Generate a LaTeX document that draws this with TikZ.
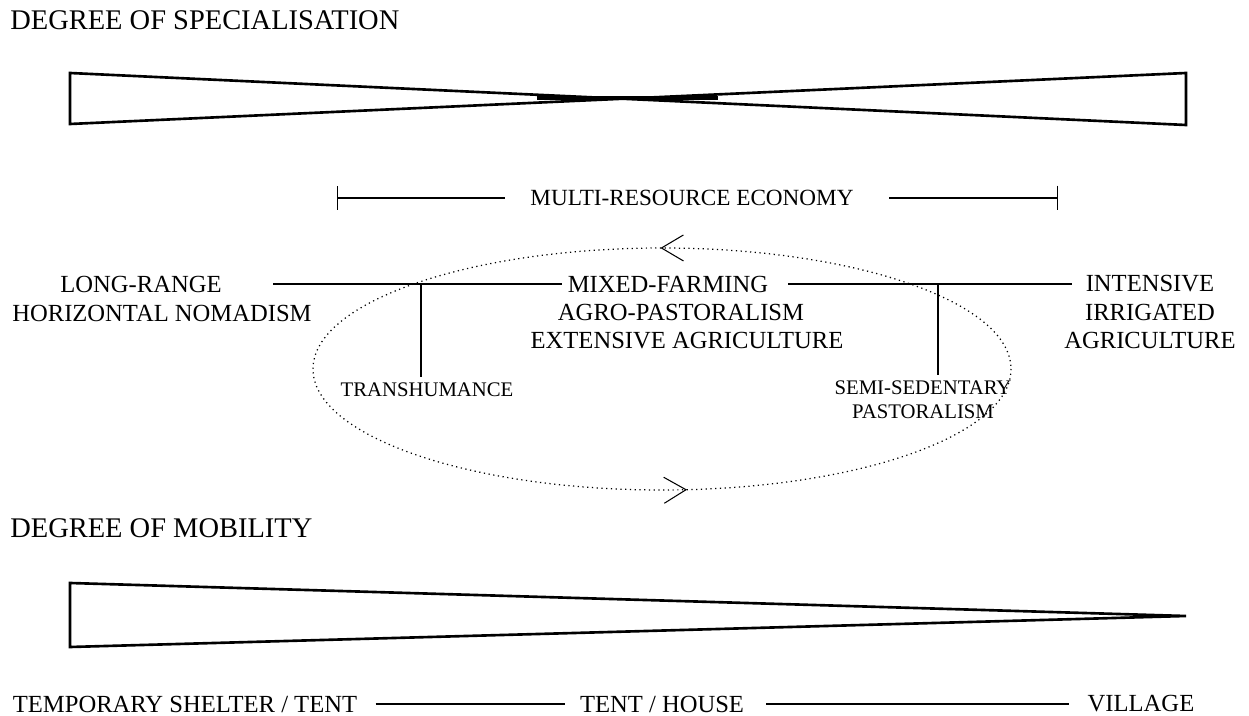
\documentclass[tikz,border=0pt]{standalone}
\usepackage{fontspec}
\setmainfont{Liberation Serif}
\usetikzlibrary{arrows.meta, decorations.markings}

\begin{document}
\begin{tikzpicture}[x=0.02cm, y=-0.02cm,
    head/.style={font=\fontsize{16.2}{19}\selectfont, anchor=west, inner sep=0pt},
    lab/.style={font=\fontsize{14}{16.2}\selectfont, align=center},
    small/.style={font=\fontsize{11.8}{13.6}\selectfont, align=center},
    thin line/.style={line width=0.75pt},
    wedge/.style={line width=1.5pt, line join=miter}]
        \useasboundingbox (0,0) rectangle (1249,716);

        % degree of specialisation
        \node[head] (SPEC) at (10, 20) {DEGREE OF SPECIALISATION};
        \draw[wedge] (70,73) -- (1186,125) -- (1186,73) -- (70,124) -- cycle;
        \draw[line width=2.8pt] (537,98) -- (718,98);

        % multi-resource economy
        \node[lab, font=\fontsize{13.2}{15}\selectfont, inner xsep=14pt]
          (MRE) at (692, 198) {MULTI-RESOURCE ECONOMY};
        \coordinate (B1) at (337,198);
        \coordinate (B2) at (1058,198);
        \draw[thin line, {Bar[width=0.48cm]}-] (B1) -- (MRE);
        \draw[thin line, shorten <=6pt, -{Bar[width=0.5cm]}] (MRE) -- (B2);

        % economies
        \node[lab] (LONG) at (141, 284) {LONG-RANGE};
        \node[lab] (HORIZ) at (162, 313) {HORIZONTAL NOMADISM};
        \node[lab] (MIXED) at (668, 284) {MIXED-FARMING};
        \node[lab] (AGRO) at (681, 312) {AGRO-PASTORALISM};
        \node[lab] (EXT) at (687, 341) {EXTENSIVE AGRICULTURE};
        \node[lab] (INTENS) at (1150, 312) {INTENSIVE\\IRRIGATED\\AGRICULTURE};
        \node[small] (TRANS) at (427, 390) {TRANSHUMANCE};
        \node[small] (SEMI) at (923, 400) {SEMI-SEDENTARY\\PASTORALISM};

        \coordinate (LA) at (273,284);
        \coordinate (RB) at (1072,284);
        \coordinate (J1) at (421,284);
        \coordinate (J2) at (938,284);
        \draw[thin line] (LA) -- (MIXED.west);
        \draw[thin line, shorten <=8pt] (MIXED.east) -- (RB);
        \draw[thin line] (J1) -- (J1 |- TRANS.north);
        \draw[thin line] (J2) -- (J2 |- SEMI.north);

        % cycle
        \draw[line width=0.7pt, dotted, postaction={decorate},
          decoration={markings,
            mark=at position 0.234 with {\arrowreversed[line width=0.6pt]{Straight Barb[length=0.44cm, width=0.52cm]}},
            mark=at position 0.749 with {\arrowreversed[line width=0.6pt]{Straight Barb[length=0.44cm, width=0.52cm]}}}]
          (662,369) ellipse [x radius=349, y radius=121];

        % degree of mobility
        \node[head] (MOB) at (10, 528) {DEGREE OF MOBILITY};
        \draw[wedge] (70,583) -- (1186,616) -- (70,647) -- cycle;

        \node[lab] (SHELTER) at (185, 704) {TEMPORARY SHELTER / TENT};
        \node[lab] (HOUSE) at (662, 704) {TENT / HOUSE};
        \node[lab] (VILL) at (1141, 704) {VILLAGE};
        \draw[thin line, shorten <=7pt, shorten >=5pt] (SHELTER) -- (HOUSE);
        \draw[thin line, shorten <=9pt, shorten >=7pt] (HOUSE) -- (VILL);
\end{tikzpicture}
\end{document}
